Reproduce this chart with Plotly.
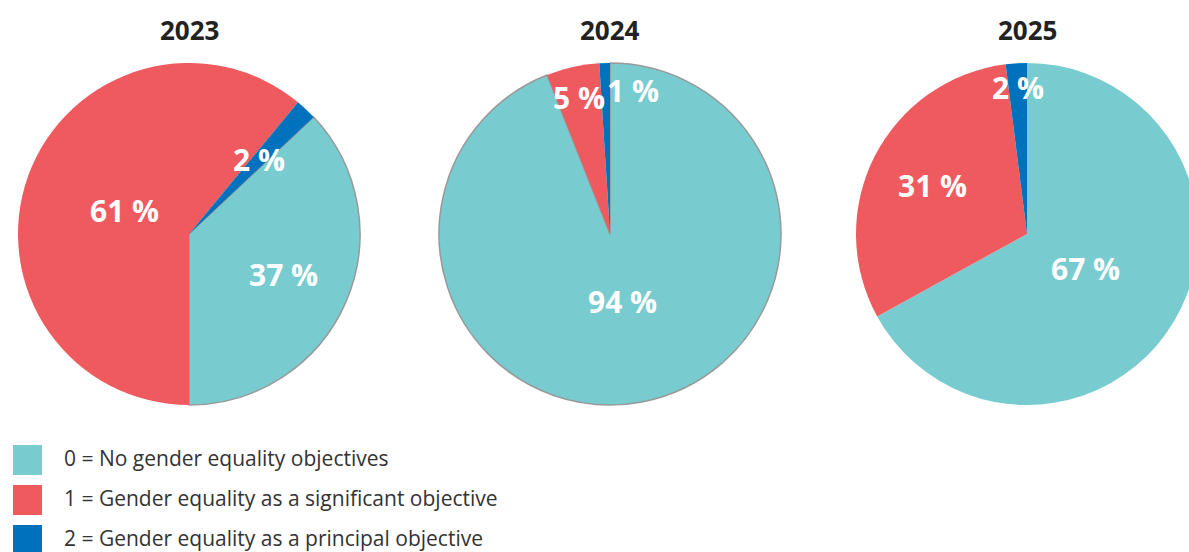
import math
import plotly.graph_objects as go

years = ["2023", "2024", "2025"]
categories = [
    "0 = No gender equality objectives",
    "1 = Gender equality as a significant objective",
    "2 = Gender equality as a principal objective",
]
values_2023 = [37, 61, 2]
values_2024 = [94, 5, 1]
values_2025 = [67, 31, 2]
all_values = [values_2023, values_2024, values_2025]

colors = ["#78CBCE", "#EF5A5E", "#0071BC"]
rotations = [46.8, 0, 0]
outline_widths = [[1.5, 0, 0], [1.5, 0, 0], [0, 0, 0]]
# radial position of each label (fraction of radius) and its horizontal anchor
label_radius = [[0.6, 0.4, 0.6], [0.4, 0.82, 0.84], [0.4, 0.62, 0.86]]
label_anchor = [["center"] * 3, ["center", "center", "left"], ["center"] * 3]

W, H = 1200, 552
OFF = 0  # body margin removed below
# pie centres and radius in page pixels
centres = [(189, 234), (610, 234), (1027, 234)]
R = 171


def px(X):
    return (X - OFF) / W


def py(Y):
    return (H - (Y - OFF)) / H


fig = go.Figure()
for yr, vals, rot, lw, (cx, cy), rf, anc in zip(
        years, all_values, rotations, outline_widths, centres, label_radius, label_anchor):
    fig.add_trace(go.Pie(
        labels=categories,
        values=vals,
        textinfo="none",
        sort=False,
        direction="clockwise",
        rotation=rot,
        marker=dict(colors=colors, line=dict(color="#999999", width=lw)),
        domain=dict(x=[px(cx - R), px(cx + R)], y=[py(cy + R), py(cy - R)]),
        showlegend=False,
        hoverinfo="label+percent",
    ))
    # year title
    fig.add_annotation(xref="paper", yref="paper", x=px(cx), y=py(30),
                       xanchor="center", yanchor="middle", showarrow=False, text=yr,
                       font=dict(family="Open Sans", size=26, color="#222222", weight="bold"))
    # percentage labels placed on each slice's bisector
    total = sum(vals)
    cum = 0
    for v, f, a in zip(vals, rf, anc):
        ang = math.radians(rot + 360 * (cum + v / 2) / total)
        cum += v
        lx = cx + f * R * math.sin(ang)
        ly = cy - f * R * math.cos(ang)
        fig.add_annotation(xref="paper", yref="paper", x=px(lx), y=py(ly),
                           xanchor=a, yanchor="middle", showarrow=False,
                           text=f"{v} %",
                           font=dict(family="Open Sans", size=30, color="white", weight="bold"))

# legend with large square swatches
for i, (cat, col) in enumerate(zip(categories, colors)):
    y0 = 445 + 40 * i
    fig.add_shape(type="rect", xref="paper", yref="paper",
                  x0=px(13), x1=px(42), y0=py(y0), y1=py(y0 + 30),
                  fillcolor=col, line=dict(width=0))
    fig.add_annotation(xref="paper", yref="paper", x=px(62), y=py(y0 + 13),
                       xanchor="left", yanchor="middle", showarrow=False,
                       text=cat, font=dict(family="Open Sans", size=21, color="#333333"))

fig.update_layout(
    width=W, height=H,
    margin=dict(l=0, r=0, t=0, b=0),
    paper_bgcolor="white",
    plot_bgcolor="white",
    font=dict(family="Open Sans"),
)

fig.write_html("out.html",
               config={"displayModeBar": False},
               post_script="document.body.style.margin='0';document.body.style.overflow='hidden';")
